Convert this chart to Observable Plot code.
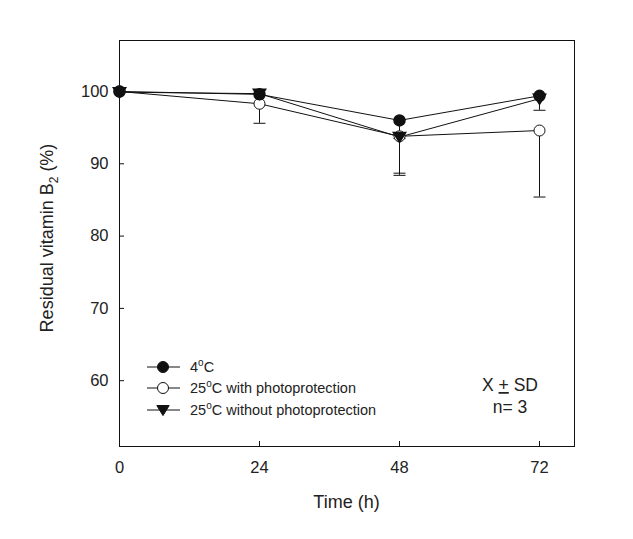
<!DOCTYPE html>
<html>
<head>
<meta charset="utf-8">
<script src="https://cdn.jsdelivr.net/npm/d3@7"></script>
<script src="https://cdn.jsdelivr.net/npm/@observablehq/plot@0.6"></script>
<style>
  html, body { margin: 0; padding: 0; background: #fff; }
  #chart { width: 633px; height: 539px; }
  svg { font-family: "Liberation Sans", Arial, sans-serif; }
</style>
</head>
<body>
<div id="chart"></div>
<script>
// ---- data ----
const times = [0, 24, 48, 72];
const xTicks = [0, 24, 48, 72];
const yTicks = [60, 70, 80, 90, 100];
const seriesNames = ["4\u00B0C", "25\u00B0C with photoprotection", "25\u00B0C without photoprotection"];
const mean4C = [100.0, 99.6, 96.0, 99.4];
const sd4C = [0, 0, 2.5, 0];
const meanWith = [100.0, 98.3, 93.8, 94.6];
const sdWith = [0, 2.7, 5.4, 9.2];
const meanWithout = [99.9, 99.7, 93.7, 99.0];
const sdWithout = [0, 0, 5.0, 1.6];

const rows = [];
[[mean4C, sd4C], [meanWith, sdWith], [meanWithout, sdWithout]].forEach(([m, s], i) => {
  times.forEach((t, j) => rows.push({series: seriesNames[i], idx: i, t, y: m[j], lo: m[j] - s[j]}));
});

const triDown = {
  draw(context, size) {
    const r = Math.sqrt(size / Math.PI);
    const w = r * 1.1;
    context.moveTo(-w, -r * 0.8);
    context.lineTo(w, -r * 0.8);
    context.lineTo(0, r * 1.0);
    context.closePath();
  }
};
const capSym = {
  draw(context, size) {
    const r = Math.sqrt(size / Math.PI);
    context.moveTo(-r, 0);
    context.lineTo(r, 0);
  }
};
const circ = d3.symbolCircle;

const ink = "#111";
const txt = "#222";
const plot = Plot.plot({
  width: 633,
  height: 539,
  marginLeft: 119,
  marginRight: 59,
  marginTop: 40,
  marginBottom: 93,
  style: {fontFamily: "Liberation Sans, Arial, sans-serif", background: "white", color: ink},
  x: {domain: [0, 78], label: null},
  y: {domain: [50.9, 107.05], label: null},
  marks: [
    Plot.frame({stroke: ink, strokeWidth: 1}),
    Plot.axisX({ticks: xTicks, tickSize: -5, tickPadding: 20, tickFormat: d => String(d), fontSize: 16.5, stroke: ink, fill: txt, label: null}),
    Plot.axisY({ticks: yTicks, tickSize: -5, tickPadding: 16, tickFormat: d => String(d), fontSize: 16.5, stroke: ink, fill: txt, label: null}),
    // error bars (lower)
    Plot.ruleX(rows.filter(d => d.lo < d.y), {x: "t", y1: "lo", y2: "y", stroke: ink, strokeWidth: 1}),
    Plot.dot(rows.filter(d => d.lo < d.y), {x: "t", y: "lo", symbol: capSym, r: 6, stroke: ink, strokeWidth: 1}),
    // lines
    Plot.line(rows, {x: "t", y: "y", z: "series", stroke: ink, strokeWidth: 1}),
    // markers
    Plot.dot(rows.filter(d => d.idx === 1), {x: "t", y: "y", symbol: circ, r: 5.5, fill: "white", stroke: ink, strokeWidth: 1}),
    Plot.dot(rows.filter(d => d.idx === 2), {x: "t", y: "y", symbol: triDown, r: 5.6, fill: ink, stroke: ink}),
    Plot.dot(rows.filter(d => d.idx === 0), {x: "t", y: "y", symbol: circ, r: 5.5, fill: ink, stroke: ink})
  ]
});

document.getElementById("chart").appendChild(plot);
const svg = d3.select(plot);

// axis titles
svg.append("text")
  .attr("x", 346.5).attr("y", 508)
  .attr("text-anchor", "middle")
  .attr("font-size", 18).attr("fill", txt)
  .text("Time (h)");

const yl = svg.append("text")
  .attr("transform", "translate(53,238) rotate(-90)")
  .attr("text-anchor", "middle")
  .attr("font-size", 18).attr("fill", txt);
yl.append("tspan").text("Residual vitamin B");
yl.append("tspan").attr("font-size", 12).attr("dy", 5).text("2");
yl.append("tspan").attr("dy", -5).text(" (%)");

// legend
const legY = [367, 388, 410];
const lg = svg.append("g");
seriesNames.forEach((name, i) => {
  const y = legY[i];
  lg.append("line").attr("x1", 147).attr("x2", 180).attr("y1", y).attr("y2", y).attr("stroke", ink);
  const sym = i === 2 ? triDown : circ;
  lg.append("path")
    .attr("transform", `translate(163,${y})`)
    .attr("d", d3.symbol(sym, Math.PI * (i === 2 ? 5.6 : 5.5) ** 2)())
    .attr("fill", i === 1 ? "white" : ink)
    .attr("stroke", ink);
  const t = lg.append("text").attr("x", 190).attr("y", y + 5).attr("text-anchor", "start").attr("font-size", 14.5).attr("fill", txt);
  const parts = name.split("\u00B0");
  t.append("tspan").text(parts[0]);
  t.append("tspan").attr("font-size", 10).attr("dy", -6).text("o");
  t.append("tspan").attr("dy", 6).text(parts[1]);
});

// annotation
const ann = svg.append("text").attr("x", 510).attr("y", 391).attr("text-anchor", "middle").attr("font-size", 17.5).attr("fill", txt);
ann.append("tspan").text("X ");
ann.append("tspan").attr("text-decoration", "underline").text("+");
ann.append("tspan").text(" SD");
svg.append("text").attr("x", 510).attr("y", 413).attr("text-anchor", "middle").attr("font-size", 17.5).attr("fill", txt).text("n= 3");
</script>
</body>
</html>
